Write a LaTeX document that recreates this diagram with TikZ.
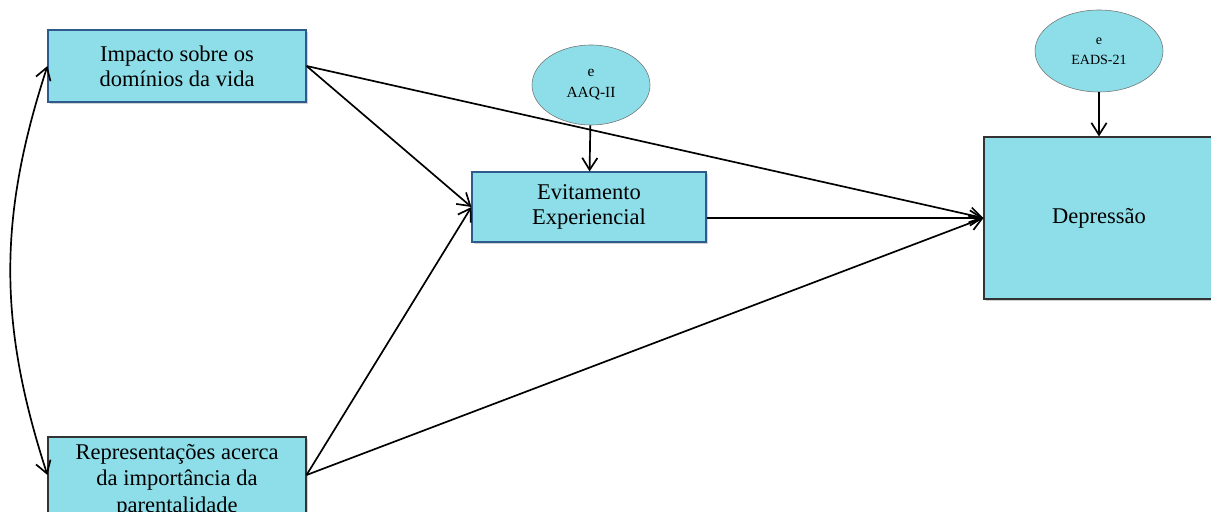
\documentclass[tikz,border=0pt]{standalone}
\usepackage{fontspec}
\setmainfont{Liberation Serif}
\usepackage{xcolor}
\usetikzlibrary{shapes,arrows.meta,positioning,calc,shadows}

\definecolor{boxfill}{RGB}{141,222,232}
\definecolor{boxline}{RGB}{47,90,140}

\begin{document}
\begin{tikzpicture}[
    varbox/.style={rectangle, draw=black!80, fill=boxfill, line width=0.8pt, align=center,
        font=\fontsize{16}{18}\selectfont,
        drop shadow={shadow xshift=0.6mm, shadow yshift=-0.6mm, fill=black!35}},
    erro/.style={ellipse, draw=black!55, fill=boxfill, align=center, inner sep=0pt},
    arrow/.style={-{Straight Barb[length=3mm,width=3.8mm]}, line width=1.2pt},
    corr/.style={{Straight Barb[length=3mm,width=3.8mm]}-{Straight Barb[length=3mm,width=3.8mm]}, line width=1.2pt}
]
    \useasboundingbox (0,0) rectangle (30.275,-12.8);

    \node[varbox, draw=boxline, minimum width=6.45cm, minimum height=1.8cm] (imp) at (4.425,-1.65) {Impacto sobre os\\domínios da vida};
    \node[varbox, minimum width=6.45cm, minimum height=1.9cm] (rep) at (4.425,-11.875) {};
    \node[font=\fontsize{16}{19}\selectfont, align=center, inner sep=0pt] (reptext) at (4.425,-12.02) {Representações acerca\\da importância da\\parentalidade};
    \node[varbox, draw=boxline, minimum width=5.85cm, minimum height=1.75cm] (evit) at (14.725,-5.175) {Evitamento\\Experiencial};
    \node[varbox, minimum width=5.75cm, minimum height=4.05cm] (dep) at (27.475,-5.45) {Depressão};

    \node[erro, minimum width=2.95cm, minimum height=2cm, font=\fontsize{11}{15}\selectfont] (eaaq) at (14.775,-2.125) {e\\AAQ-II};
    \node[erro, minimum width=3.2cm, minimum height=2.05cm, font=\fontsize{10}{14}\selectfont] (eeads) at (27.475,-1.275) {e\\EADS-21};

    \draw[arrow] (eaaq) -- (evit);
    \draw[arrow] (eeads) -- (dep);
    \draw[arrow] (imp.east) -- (evit.west);
    \draw[arrow] (imp.east) -- (dep.west);
    \draw[arrow] (evit.east |- dep.west) -- (dep.west);
    \draw[arrow] (rep.east) -- (evit.west);
    \draw[arrow] (rep.east) -- (dep.west);
    \draw[corr] (imp.west) to[bend right=18] (rep.west);
\end{tikzpicture}
\end{document}
